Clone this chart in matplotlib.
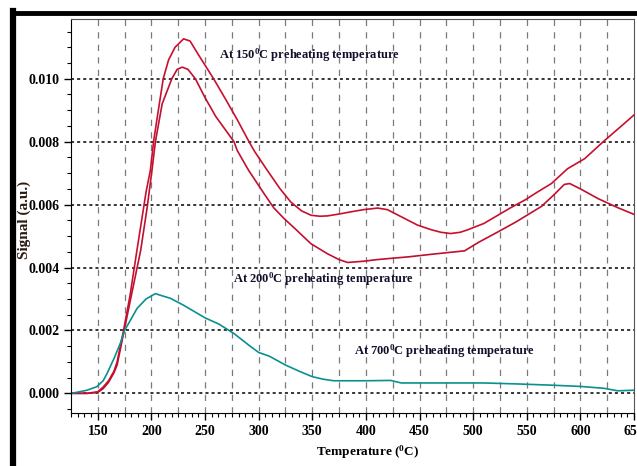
## TPD-like signal vs temperature at three preheating temperatures
import matplotlib
matplotlib.use("Agg")
import matplotlib.pyplot as plt
from matplotlib.ticker import MultipleLocator, FormatStrFormatter
from matplotlib.lines import Line2D
import numpy as np

plt.rcParams['font.family'] = ['Liberation Serif', 'DejaVu Serif']
plt.rcParams['mathtext.default'] = 'regular'

## 150 C preheating (upper red curve)
temp150 = [125, 140, 150, 155, 160, 165, 168, 174, 180, 186.5, 195, 199, 202, 206, 211, 216, 222,
           230, 236, 245, 258, 270, 280, 291, 296, 308, 320, 330, 340, 349, 357, 364, 375, 386,
           398, 411, 420, 428, 436, 448, 461, 470, 479, 488, 495, 510, 523, 535, 548, 560, 573,
           588, 604, 622, 640, 650]
sig150 = [0.0, 0.0, 0.00005, 0.0002, 0.0004, 0.0007, 0.001, 0.002, 0.0031, 0.00455, 0.0064,
          0.00709, 0.008, 0.0089, 0.010, 0.0106, 0.0110, 0.01127, 0.0112, 0.0107, 0.010, 0.0093,
          0.0087, 0.008, 0.0077, 0.00709, 0.0065, 0.00608, 0.0058, 0.00566, 0.00563, 0.00564,
          0.0057, 0.00577, 0.00584, 0.00589, 0.00584, 0.0057, 0.00556, 0.00535, 0.0052, 0.00512,
          0.00508, 0.00512, 0.0052, 0.0054, 0.00566, 0.0059, 0.00614, 0.0064, 0.00667, 0.00714,
          0.00746, 0.00802, 0.00855, 0.00885]

## 200 C preheating (lower red curve)
temp200 = [125, 140, 150, 155, 160, 165, 168, 174, 180, 190, 196, 200.5, 203.7, 210, 219, 224,
           228.7, 234, 241, 250, 260, 277, 280, 290.6, 305, 314, 323.6, 335, 348.6, 364, 375, 383,
           398, 410, 423, 440, 461, 478, 492, 505, 523, 540, 563.6, 575, 585, 590, 600, 616.5,
           635, 650]
sig200 = [0.0, 0.0, 0.00003, 0.00015, 0.00035, 0.00065, 0.0009, 0.0019, 0.0029, 0.00455, 0.0059,
          0.00709, 0.008, 0.0092, 0.010, 0.0103, 0.01037, 0.0103, 0.010, 0.0094, 0.0088, 0.008,
          0.00772, 0.00709, 0.00635, 0.0059, 0.00556, 0.0052, 0.00476, 0.00444, 0.00425, 0.00416,
          0.0042, 0.00425, 0.00429, 0.00434, 0.00442, 0.00448, 0.00453, 0.0048, 0.00513, 0.00545,
          0.00594, 0.0063, 0.00664, 0.00667, 0.0065, 0.00619, 0.0059, 0.00569]

## 700 C preheating (teal curve)
temp700 = [125, 130, 140, 149, 155, 158.6, 165, 171, 175, 180, 186.6, 195, 203.7, 210, 217.8, 230,
           250, 263, 277, 292, 300, 310, 325, 338, 350, 360, 370, 400, 423, 433, 470, 510, 540,
           573, 600, 622, 635, 650]
sig700 = [0.0, 0.00003, 0.0001, 0.00021, 0.0004, 0.00063, 0.0011, 0.00159, 0.002, 0.0023, 0.0027,
          0.003, 0.00317, 0.0031, 0.00302, 0.0028, 0.0024, 0.0022, 0.0019, 0.0015, 0.0013,
          0.00118, 0.0009, 0.0007, 0.00053, 0.00045, 0.0004, 0.0004, 0.00041, 0.00033, 0.00033,
          0.00033, 0.0003, 0.00026, 0.00022, 0.00016, 0.00008, 0.0001]

labels = ["At 150$^0$C preheating temperature",
          "At 200$^0$C preheating temperature",
          "At 700$^0$C preheating temperature"]
labelPos = [(262.6, 0.01075), (275.7, 0.00363), (388.8, 0.00134)]

fig = plt.figure(figsize=(6.37, 4.66), dpi=100)
ax = fig.add_axes([71/637, 1-413/466, 563/637, 394/466])

# grid: vertical dashed every 25, horizontal dotted at major y ticks
for t in np.arange(150, 650, 25):
    ax.axvline(t, color='#7a7a7a', linestyle=(0, (5, 5)), linewidth=0.9, zorder=0)
for s in np.arange(0, 0.0101, 0.002):
    ax.axhline(s, color='black', linestyle=(0, (2, 2)), linewidth=1.1, zorder=0)

ax.plot(temp150, sig150, color='#c8102e', linewidth=1.2)
ax.plot(temp200, sig200, color='#c01030', linewidth=1.2)
ax.plot(temp700, sig700, color='#0a9090', linewidth=1.2)

for txt, (x, y) in zip(labels, labelPos):
    ax.text(x, y, txt, fontsize=9, fontweight='bold', color='#10102a', va='center', ha='left')

ax.set_xlim(125, 650)
ax.set_ylim(-0.000625, 0.0119)
ax.xaxis.set_major_locator(MultipleLocator(50))
ax.xaxis.set_minor_locator(MultipleLocator(6.25))
ax.yaxis.set_major_locator(MultipleLocator(0.002))
ax.yaxis.set_minor_locator(MultipleLocator(0.0005))
ax.yaxis.set_major_formatter(FormatStrFormatter('%.3f'))
ax.tick_params(which='major', length=5, width=1, labelsize=10)
ax.tick_params(which='minor', length=3, width=0.8)
for lab in ax.get_xticklabels() + ax.get_yticklabels():
    lab.set_fontweight('bold')

ax.spines['top'].set_color('#555555')
ax.spines['right'].set_color('#555555')
ax.spines['top'].set_linewidth(0.8)
ax.spines['right'].set_linewidth(0.8)

fig.text(368/637, 1-452/466, "Temperature ($^0$C)", fontsize=9.5, fontweight='bold',
         ha='center', va='center')
fig.text(24/637, 1-220/466, "Signal (a.u.)", fontsize=11, fontweight='bold',
         rotation=90, ha='center', va='center', color='#2a1a10')

# black frame pieces at top and left of the picture
fig.add_artist(Line2D([13/637, 1], [1-12.5/466, 1-12.5/466], color='black', linewidth=3.5,
                      transform=fig.transFigure))
fig.add_artist(Line2D([13/637, 13/637], [0, 1-11/466], color='black', linewidth=4.5,
                      transform=fig.transFigure))

fig.savefig("out.png", dpi=100)
